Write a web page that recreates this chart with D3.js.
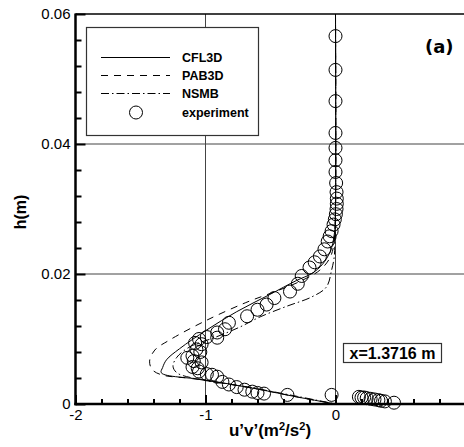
<!DOCTYPE html>
<html>
<head>
<meta charset="utf-8">
<script src="https://cdn.jsdelivr.net/npm/d3@7"></script>
<style>
  body { margin: 0; background: #fff; }
  svg { display: block; font-family: Arial, "Liberation Sans", sans-serif; }
</style>
</head>
<body>
<div id="chart"></div>
<script>
// values: [u'v' (m^2/s^2), h (m)]
const cfl3d = [[0, 0.06], [0, 0.03], [-0.01, 0.026], [-0.04, 0.0235], [-0.1, 0.0215], [-0.18, 0.0201],
  [-0.3, 0.019], [-0.51, 0.0168], [-0.76, 0.0142], [-0.99, 0.0114], [-1.2, 0.0085], [-1.3, 0.0068],
  [-1.33, 0.0056], [-1.34, 0.0048], [-1.0, 0.0037], [-0.6, 0.0023], [-0.3, 0.0011], [0, 0]];
const pab3d = [[0, 0.06], [0, 0.03], [-0.01, 0.025], [-0.04, 0.0226], [-0.12, 0.0206], [-0.28, 0.0188],
  [-0.45, 0.0174], [-0.69, 0.0156], [-1.0, 0.0128], [-1.28, 0.0098], [-1.39, 0.0083], [-1.43, 0.0066],
  [-1.41, 0.0053], [-1.34, 0.0045], [-1.1, 0.0039], [-0.6, 0.0023], [-0.3, 0.0011], [0, 0]];
const nsmb = [[0, 0.06], [0, 0.03], [-0.005, 0.025], [-0.01, 0.0226], [-0.03, 0.0206], [-0.07, 0.018],
  [-0.18, 0.0165], [-0.38, 0.015], [-0.58, 0.0134], [-0.74, 0.0118], [-0.92, 0.0103], [-1.12, 0.0088],
  [-1.22, 0.0072], [-1.25, 0.0058], [-1.22, 0.0048], [-1.1, 0.004], [-0.7, 0.0027], [-0.3, 0.0012], [0, 0]];
const experiment = [[0, 0.0566], [0, 0.0514], [0, 0.0466], [0, 0.0417], [0, 0.0394], [0, 0.0375], [0, 0.0357],
  [0.005, 0.034], [0.008, 0.0326], [0.01, 0.0316], [0.01, 0.0308], [0.008, 0.03], [0.003, 0.0292],
  [-0.005, 0.0284], [-0.015, 0.0276], [-0.03, 0.0266], [-0.045, 0.0258], [-0.06, 0.025], [-0.085, 0.0238],
  [-0.12, 0.0227], [-0.16, 0.0218], [-0.2, 0.021], [-0.26, 0.0197], [-0.29, 0.0185], [-0.35, 0.0173],
  [-0.47, 0.0163], [-0.53, 0.0153], [-0.6, 0.0145], [-0.68, 0.0135], [-0.82, 0.0125], [-0.85, 0.0115],
  [-0.91, 0.011], [-0.91, 0.0102], [-0.99, 0.0103], [-1.05, 0.01], [-1.08, 0.0094], [-1.03, 0.0092],
  [-1.07, 0.0084], [-1.04, 0.008], [-1.1, 0.0074], [-1.14, 0.0071], [-1.09, 0.0066], [-1.03, 0.0064],
  [-1.1, 0.0057], [-1.06, 0.0055], [-1.05, 0.005], [-0.99, 0.0046], [-0.95, 0.0045], [-0.91, 0.0042],
  [-0.87, 0.0034], [-0.82, 0.003], [-0.76, 0.0026], [-0.7, 0.0022], [-0.64, 0.0019], [-0.6, 0.0017],
  [-0.55, 0.0016], [-0.37, 0.0014], [-0.03, 0.0014], [0.18, 0.0011], [0.2, 0.001], [0.22, 0.001],
  [0.24, 0.0009], [0.27, 0.0008], [0.3, 0.0007], [0.33, 0.0006], [0.35, 0.0005], [0.38, 0.0004], [0.45, 0.0002]];

const xTicks = [-2, -1, 0, 1];
const yTicks = [0, 0.02, 0.04, 0.06];
const xGrid = [-1, 0];
const yGrid = [0.02, 0.04];
const legendNames = ["CFL3D", "PAB3D", "NSMB", "experiment"];

const width = 464, height = 447;
const svg = d3.select("#chart").append("svg").attr("width", width).attr("height", height);

const x = d3.scaleLinear().domain([-2, 1]).range([75.5, 465.5]);
const y = d3.scaleLinear().domain([0, 0.06]).range([404, 14]);

// grid
svg.append("g").selectAll("line").data(xGrid).join("line")
  .attr("x1", d => x(d)).attr("x2", d => x(d)).attr("y1", y(0)).attr("y2", y(0.06))
  .attr("stroke", "#444").attr("stroke-width", 1);
svg.append("g").selectAll("line").data(yGrid).join("line")
  .attr("x1", x(-2)).attr("x2", x(1)).attr("y1", d => y(d)).attr("y2", d => y(d))
  .attr("stroke", "#444").attr("stroke-width", 1);

// top border
svg.append("line").attr("x1", x(-2)).attr("x2", x(1)).attr("y1", y(0.06)).attr("y2", y(0.06))
  .attr("stroke", "#000").attr("stroke-width", 1.3);

// curves
const line = d3.line().x(d => x(d[0])).y(d => y(d[1])).curve(d3.curveCatmullRom.alpha(0.5));
const series = [
  { data: cfl3d, dash: null },
  { data: pab3d, dash: "7,6" },
  { data: nsmb, dash: "8,3,1.5,3" }
];
svg.append("g").selectAll("path").data(series).join("path")
  .attr("d", d => line(d.data))
  .attr("fill", "none").attr("stroke", "#000").attr("stroke-width", 1)
  .attr("stroke-dasharray", d => d.dash);

// experiment circles
svg.append("g").selectAll("circle").data(experiment).join("circle")
  .attr("cx", d => x(d[0])).attr("cy", d => y(d[1])).attr("r", 6.5)
  .attr("fill", "none").attr("stroke", "#000").attr("stroke-width", 1);

// axes
const fmt = d => String(d);
const yAxis = svg.append("g").attr("transform", `translate(${x(-2)},0)`)
  .call(d3.axisLeft(y).tickValues(yTicks).tickFormat(fmt).tickSize(-10).tickPadding(5));
const yMinor = svg.append("g").attr("transform", `translate(${x(-2)},0)`)
  .call(d3.axisLeft(y).tickValues(d3.range(0, 0.0601, 0.004).filter(v => Math.abs(v / 0.02 - Math.round(v / 0.02)) > 1e-6))
    .tickFormat("").tickSize(-6));
const xAxis = svg.append("g").attr("transform", `translate(0,${y(0)})`)
  .call(d3.axisBottom(x).tickValues(xTicks).tickFormat(d => d === 1 ? "" : fmt(d)).tickSize(-9).tickPadding(5));
const xMinor = svg.append("g").attr("transform", `translate(0,${y(0)})`)
  .call(d3.axisBottom(x).tickValues(d3.range(-2, 1.001, 0.2).filter(v => Math.abs(v - Math.round(v)) > 1e-6))
    .tickFormat("").tickSize(-5));

[yAxis, yMinor, xAxis, xMinor].forEach(g => {
  g.select(".domain").remove();
  g.selectAll(".tick line").attr("stroke", "#000").attr("stroke-width", 2);
  g.selectAll("text").attr("fill", "#000").style("font-size", "15px")
    .style("font-family", "Arial, 'Liberation Sans', sans-serif");
});

svg.append("line").attr("x1", x(-2)).attr("x2", x(-2)).attr("y1", y(0.06) - 0.6).attr("y2", y(0) + 1.2)
  .attr("stroke", "#000").attr("stroke-width", 2.5);
svg.append("line").attr("x1", x(-2) - 1.2).attr("x2", x(1)).attr("y1", y(0)).attr("y2", y(0))
  .attr("stroke", "#000").attr("stroke-width", 2.5);

// axis titles
const xt = svg.append("text").attr("x", 270).attr("y", 436).attr("text-anchor", "middle")
  .style("font-size", "17px").style("font-weight", "bold");
xt.append("tspan").text("u’v’(m");
xt.append("tspan").attr("dy", -6).style("font-size", "11px").text("2");
xt.append("tspan").attr("dy", 6).text("/s");
xt.append("tspan").attr("dy", -6).style("font-size", "11px").text("2");
xt.append("tspan").attr("dy", 6).text(")");

svg.append("text").attr("transform", "translate(26,212) rotate(-90)").attr("text-anchor", "middle")
  .style("font-size", "16px").style("font-weight", "bold").text("h(m)");

// legend
const legend = svg.append("g");
legend.append("rect").attr("x", 86.5).attr("y", 27.5).attr("width", 172).attr("height", 108)
  .attr("fill", "#fff").attr("stroke", "#333").attr("stroke-width", 1.2);
const rowY = [57.5, 75.5, 93.5, 112.5];
legend.selectAll("path.leg").data(series).join("path").attr("class", "leg")
  .attr("d", (d, i) => `M101,${rowY[i]}H170`)
  .attr("stroke", "#000").attr("stroke-width", 1).attr("stroke-dasharray", d => d.dash);
legend.append("circle").attr("cx", 136).attr("cy", rowY[3]).attr("r", 6.5)
  .attr("fill", "none").attr("stroke", "#000");
legend.selectAll("text").data(legendNames).join("text")
  .attr("x", 182).attr("y", (d, i) => rowY[i] + 4.5)
  .style("font-size", "12.5px").style("font-weight", "bold").text(d => d);

// panel label
svg.append("text").attr("x", 425).attr("y", 53)
  .style("font-family", "'DejaVu Sans', sans-serif").style("font-size", "18px").style("font-weight", "bold")
  .text("(a)");

// station box
svg.append("rect").attr("x", 343.5).attr("y", 343.5).attr("width", 98).attr("height", 19)
  .attr("fill", "#fff").attr("stroke", "#333").attr("stroke-width", 1.2);
svg.append("text").attr("x", 392.5).attr("y", 359).attr("text-anchor", "middle")
  .style("font-size", "16px").style("font-weight", "bold").text("x=1.3716 m");
</script>
</body>
</html>
